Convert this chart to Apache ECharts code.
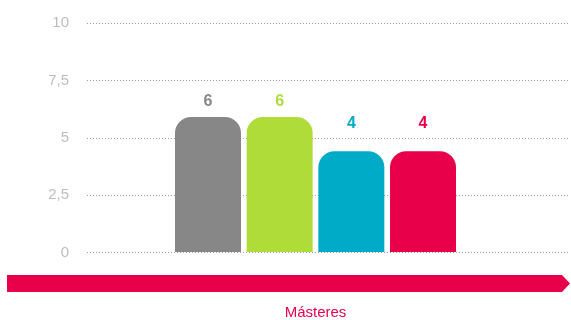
<!DOCTYPE html>
<html>
<head>
<meta charset="utf-8">
<script src="https://cdn.jsdelivr.net/npm/echarts@6/dist/echarts.min.js"></script>
<style>
html,body{margin:0;padding:0;background:#fff;}
#chart{width:571px;height:320px;}
</style>
</head>
<body>
<div id="chart"></div>
<script>
// ---- data ----
const categories = ['Másteres'];
const seriesNames = ['Serie 1', 'Serie 2', 'Serie 3', 'Serie 4'];
const seriesValues = [5.9, 5.9, 4.4, 4.4];
const yTicks = [0, 2.5, 5, 7.5, 10];

// ---- styles ----
const colors = ['#878787', '#b0dc3a', '#00abc8', '#e8004b'];
const labelDistances = [7, 7, 20, 20];

const chart = echarts.init(document.getElementById('chart'), null, {renderer: 'canvas'});

const series = seriesValues.map((v, i) => ({
  name: seriesNames[i],
  type: 'bar',
  xAxisIndex: 1,
  yAxisIndex: 1,
  barWidth: 66,
  barGap: '8.6%',
  data: [v],
  itemStyle: {color: colors[i], borderRadius: [16, 16, 0, 0]},
  label: {
    show: true,
    position: 'top',
    distance: labelDistances[i],
    color: colors[i],
    fontFamily: 'Liberation Sans',
    fontWeight: 'bold',
    fontSize: 16,
    formatter: p => String(Math.round(p.value))
  }
}));

chart.setOption({
  animation: false,
  grid: [
    {left: 87, right: 1, top: 23.3, bottom: 67.3},
    {left: 171, right: 111, top: 23.3, bottom: 67.3}
  ],
  xAxis: [
    {gridIndex: 0, type: 'category', data: [''], show: false},
    {
      gridIndex: 1, type: 'category', data: categories,
      axisLine: {show: false}, axisTick: {show: false},
      axisLabel: {
        margin: 53, color: '#e8004b', fontSize: 15,
        fontFamily: 'Liberation Sans'
      }
    }
  ],
  yAxis: [
    {
      gridIndex: 0, type: 'value',
      min: yTicks[0], max: yTicks[yTicks.length - 1], interval: yTicks[1] - yTicks[0],
      axisLine: {show: false}, axisTick: {show: false},
      axisLabel: {
        margin: 18, color: '#bdbdbd', fontSize: 15,
        fontFamily: 'Liberation Sans',
        formatter: v => String(v).replace('.', ',')
      },
      splitLine: {show: true, lineStyle: {color: '#9a9a9a', width: 1, type: [1, 2]}}
    },
    {
      gridIndex: 1, type: 'value',
      min: yTicks[0], max: yTicks[yTicks.length - 1], interval: yTicks[1] - yTicks[0],
      show: false, splitLine: {show: false}
    }
  ],
  graphic: [{
    type: 'polygon',
    shape: {points: [[7, 275], [562, 275], [570, 283.5], [562, 292], [7, 292]]},
    style: {fill: '#e8004b'},
    z: 0
  }],
  series: series
});
</script>
</body>
</html>
